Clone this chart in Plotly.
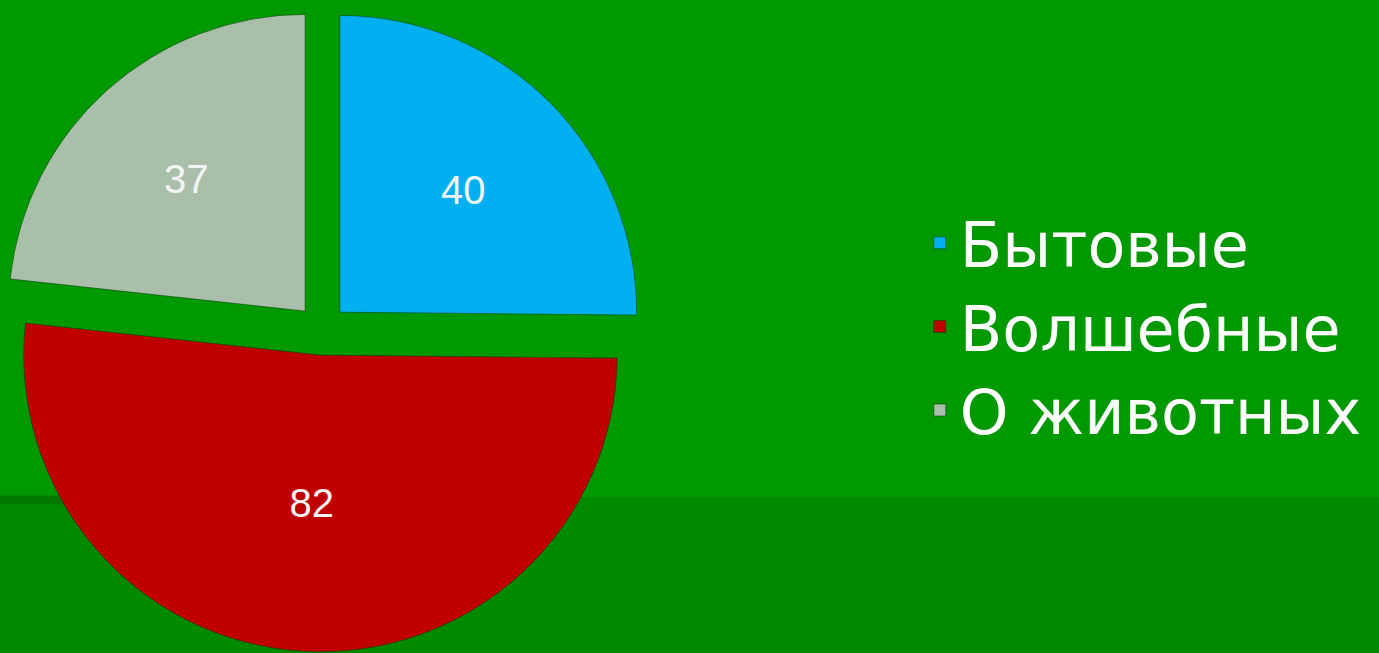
import plotly.graph_objects as go

labels = ["Бытовые", "Волшебные", "О животных"]
values = [40, 82, 37]
colors = ["#00B0F0", "#C00000", "#AABFAA"]
pulls = [0.085, 0.085, 0.085]

fig = go.Figure()
fig.add_trace(
    go.Pie(
        labels=labels,
        values=values,
        sort=False,
        direction="clockwise",
        rotation=0,
        pull=pulls,
        marker=dict(colors=colors, line=dict(color="rgba(0,70,0,0.6)", width=1)),
        textinfo="value",
        textposition="inside",
        insidetextorientation="horizontal",
        textfont=dict(family="Liberation Sans, Arial, sans-serif", size=40, color="#F4F4F4"),
        domain=dict(x=[0, 0.467], y=[0.0015, 0.988]),
        hoverinfo="label+value",
    )
)

fig.update_layout(
    width=1379,
    height=653,
    margin=dict(l=0, r=0, t=0, b=0),
    paper_bgcolor="#009900",
    plot_bgcolor="#009900",
    showlegend=True,
    legend=dict(
        x=0.667,
        y=0.5,
        xanchor="left",
        yanchor="middle",
        font=dict(family="DejaVu Sans, sans-serif", size=62, color="#FFFFFF"),
        bgcolor="rgba(0,0,0,0)",
    ),
    shapes=[
        dict(type="rect", xref="paper", yref="paper", x0=0, x1=1, y0=0, y1=(653 - 497) / 653,
             fillcolor="#008A00", line=dict(width=0), layer="below"),
        dict(type="line", xref="paper", yref="paper", x0=0, x1=0.25, y0=(653 - 500) / 653, y1=(653 - 500) / 653,
             line=dict(color="#007800", width=9), layer="below"),
    ],
)

# drop the browser's default page margin so the chart fills the window
fig.write_html(
    "out.html",
    config={"displayModeBar": False},
    post_script="document.body.style.margin='0';document.body.style.overflow='hidden';",
)
